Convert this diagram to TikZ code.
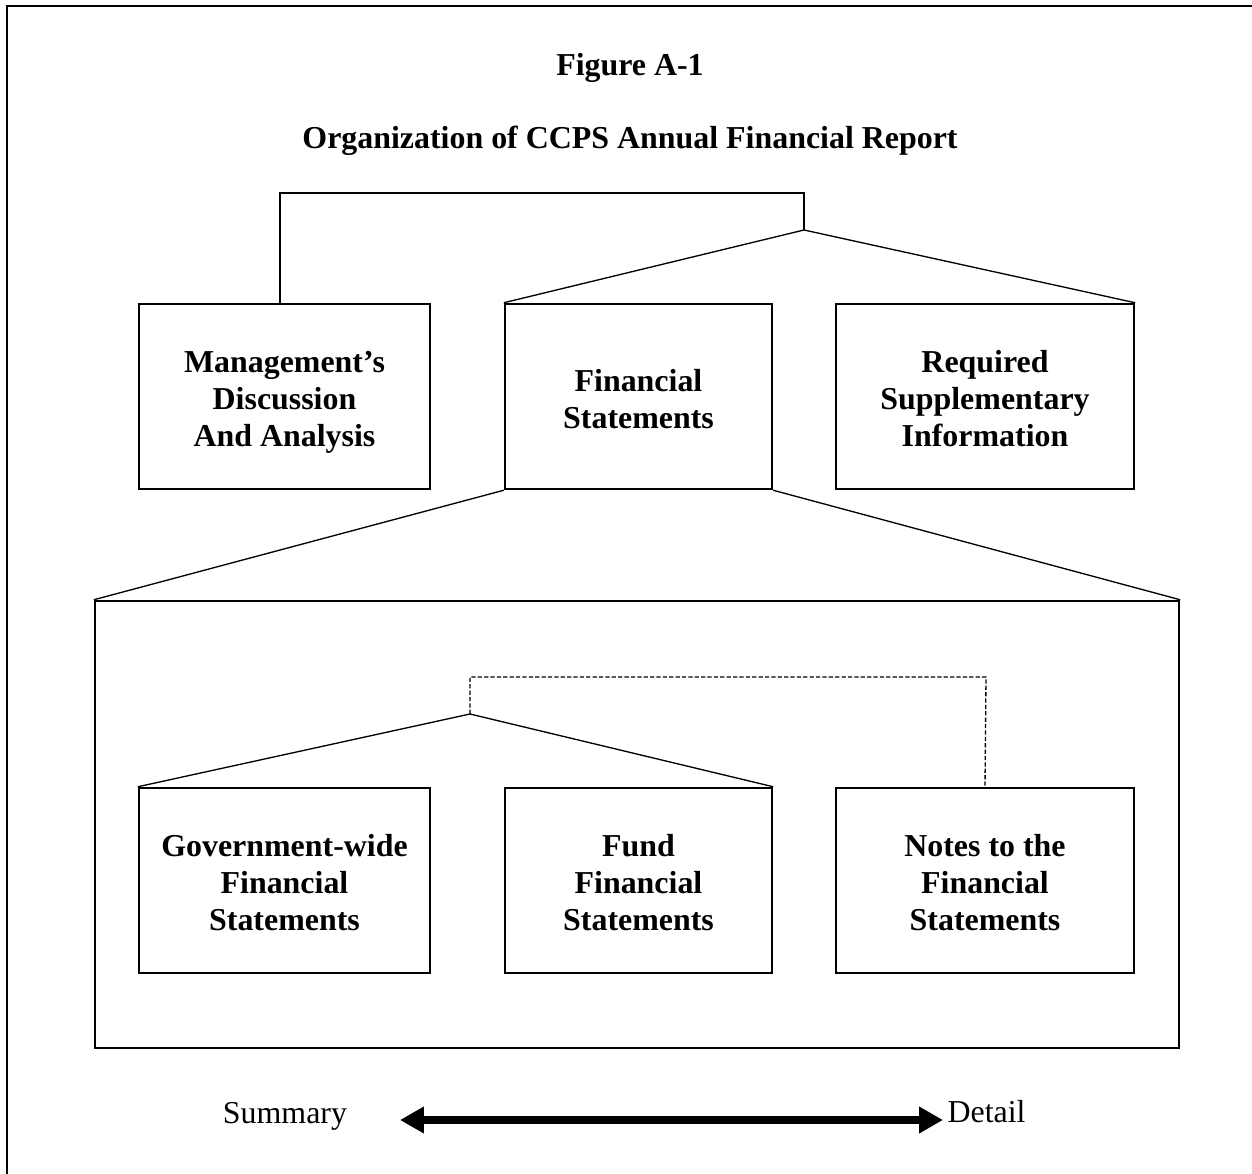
\documentclass[tikz,border=0pt]{standalone}
\usepackage{fontspec}
\setmainfont{Liberation Serif}
\usetikzlibrary{arrows.meta}
\newcommand\topstrut{\rule{0pt}{13pt}}

\begin{document}
\begin{tikzpicture} [x=0.376pt, y=-0.376pt,
    font=\fontsize{12}{13.9}\selectfont,
    box/.style={draw,line width=0.9pt,align=center,font=\fontsize{12}{13.9}\selectfont\bfseries,
      minimum height=69.6pt,inner sep=0pt,
      execute at end node={\rule[-3pt]{0pt}{3pt}}},
    wide/.style={box,minimum width=109.4pt},
    mid/.style={box,minimum width=100.4pt},
    side/.style={box,minimum width=112pt},
    thin/.style={line width=0.5pt} ]
    \useasboundingbox (0,0) rectangle (1252,1174);
    % frame, only top and left edges show
    \draw[line width=1.1pt] (7,1174) -- (7,6) -- (1252,6);

    \node[font=\fontsize{12}{13.9}\selectfont\bfseries] (fig) at (630,68) {Figure A-1};
    \node[font=\fontsize{12}{13.9}\selectfont\bfseries] (title) at (630,141) {Organization of CCPS Annual Financial Report};

    \node[wide] (mda) at (284.5,396.5) {\topstrut Management's\\Discussion\\And Analysis};
    \node[mid] (fs) at (638.5,396.5) {\topstrut Financial\\Statements};
    \node[side] (rsi) at (985,396.5) {\topstrut Required\\Supplementary\\Information};

    \node[draw,line width=0.9pt,minimum width=407.6pt,minimum height=168.1pt] (body) at (637,824.5) {};

    \node[wide] (gov) at (284.5,880.5) {\topstrut Government-wide\\Financial\\Statements};
    \node[mid] (fund) at (638.5,880.5) {\topstrut Fund\\Financial\\Statements};
    \node[side] (notes) at (985,880.5) {\topstrut Notes to the\\Financial\\Statements};

    \coordinate (fsApex) at (804,230);
    \coordinate (mdaTop) at (804,193);
    \coordinate (gfApex) at (470,714);
    \coordinate (notesTop) at (986,677);

      \draw[line width=0.8pt] ([xshift=-1.7pt]mda.north) |- (mdaTop) -- (fsApex);
      \path[thin]
      (fs.north west) edge (fsApex)
      (fsApex) edge (rsi.north east)
      (fs.south west) edge (body.north west)
      (fs.south east) edge (body.north east)
      (gov.north west) edge (gfApex)
      (gfApex) edge (fund.north east)
      ;
      \draw[thin,dash pattern=on 1.6pt off 0.8pt] (gfApex) |- (notesTop) -- (notes.north);

    \node[anchor=base] (summary) at (285,1123) {Summary};
    \node[anchor=base west,inner sep=0pt] (detail) at (947,1122) {Detail};
    \coordinate (sumEnd) at (400,1120);
    \coordinate (detEnd) at (943,1120);
      \draw[line width=3pt,<->,>={Triangle[length=9pt,width=9.5pt]}] (sumEnd) -- (detEnd);
    \end{tikzpicture}
\end{document}
